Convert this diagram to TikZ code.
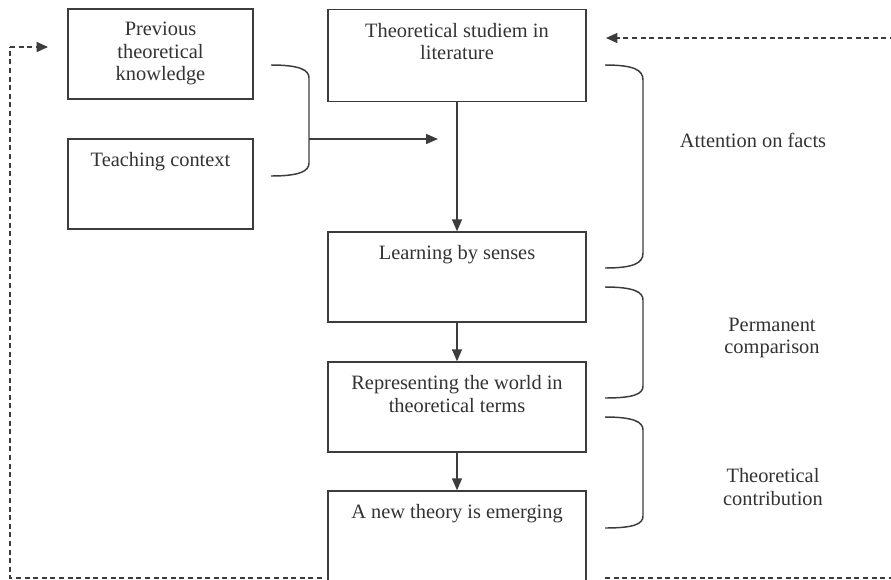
\documentclass[tikz,border=0pt]{standalone}
\usepackage{fontspec}
\setmainfont{Liberation Serif}
\usetikzlibrary{arrows.meta}
\definecolor{ln}{HTML}{3C3C3C}
\definecolor{tx}{HTML}{333333}
\tikzset{
  box/.style={draw=ln, line width=1.1pt, rectangle, minimum width=138.75pt, minimum height=67.5pt, inner sep=0},
  wbox/.style={box, minimum width=193.5pt},
  txt/.style={text=tx, font=\fontsize{15.3}{16.9}\selectfont, align=center, inner sep=0, anchor=north},
  lab/.style={text=tx, font=\fontsize{15.3}{17.2}\selectfont, align=center, inner sep=0},
  arr/.style={draw=ln, line width=1.1pt, -{Triangle[length=9pt,width=7.5pt]}},
  darr/.style={draw=ln, line width=0.9pt, dash pattern=on 3.75pt off 2.7pt, -{Triangle[length=8.5pt,width=7.5pt]}},
  dline/.style={draw=ln, line width=0.9pt, dash pattern=on 3.75pt off 2.7pt},
  brace/.style={draw=ln, line width=1.1pt}
}
\begin{document}
\begin{tikzpicture}[x=0.75pt,y=-0.75pt]
\useasboundingbox (0,0) rectangle (891,579);
\clip (0,0) rectangle (891,579);
\fill[white] (0,0) rectangle (891,579);
% boxes
\node[box] (b1) at (160.5,54) {};
\node[box] (b2) at (160.5,184) {};
\node[wbox, minimum height=69pt] (b3) at (457,55.5) {};
\node[wbox] (b4) at (457,277) {};
\node[wbox] (b5) at (457,407) {};
\node[wbox, minimum height=75pt] (b6) at (457,541) {};
% texts
\node[txt] (t1) at ([yshift=-10.4pt]b1.north) {Previous\\theoretical\\knowledge};
\node[txt] (t2) at ([yshift=-10.4pt]b2.north) {Teaching context};
\node[txt] (t3) at ([yshift=-10.4pt]b3.north) {Theoretical studiem in\\literature};
\node[txt] (t4) at ([yshift=-10.4pt]b4.north) {Learning by senses};
\node[txt] (t5) at ([yshift=-10.4pt]b5.north) {Representing the world in\\theoretical terms};
\node[txt] (t6) at ([yshift=-10.4pt]b6.north) {A new theory is emerging};
% arrows
\draw[arr] (b3.south) -- (b4.north);
\draw[arr] (b4.south) -- (b5.north);
\draw[arr] (b5.south) -- (b6.north);
% left brace
\coordinate (lb) at (309,139);
\coordinate (lt) at (438,139);
\draw[brace] (271,65) .. controls (300,65) and (309,70) .. (309,78) -- (309,163) .. controls (309,171) and (300,176) .. (271,176);
\draw[arr] (lb) -- (lt);
% right braces
\draw[brace] (605,65) .. controls (634,65) and (643,70) .. (643,80) -- (643,253) .. controls (643,263) and (634,268) .. (605,268);
\draw[brace] (605,287) .. controls (634,287) and (643,292) .. (643,300) -- (643,386) .. controls (643,394) and (634,398) .. (605,398);
\draw[brace] (605,417) .. controls (634,417) and (643,422) .. (643,430) -- (643,516) .. controls (643,524) and (634,528) .. (605,528);
% labels
\node[lab] (l1) at (753,140) {Attention on facts};
\node[lab] (l2) at (772,338) {Permanent\\comparison};
\node[lab] (l3) at (773,487) {Theoretical\\contribution};
% dashed feedback
\coordinate (d1) at (322,578);
\coordinate (d2) at (10,578);
\coordinate (d3) at (10,47);
\coordinate (d4) at (48,47);
\draw[dline] (d1) -- (d2) -- (d3);
\draw[darr] (d3) -- (d4);
\coordinate (e1) at (605,578);
\coordinate (e2) at (895,578);
\coordinate (e3) at (895,38);
\coordinate (e4) at (606,38);
\draw[dline] (e1) -- (e2);
\draw[darr] (e3) -- (e4);
\end{tikzpicture}
\end{document}
